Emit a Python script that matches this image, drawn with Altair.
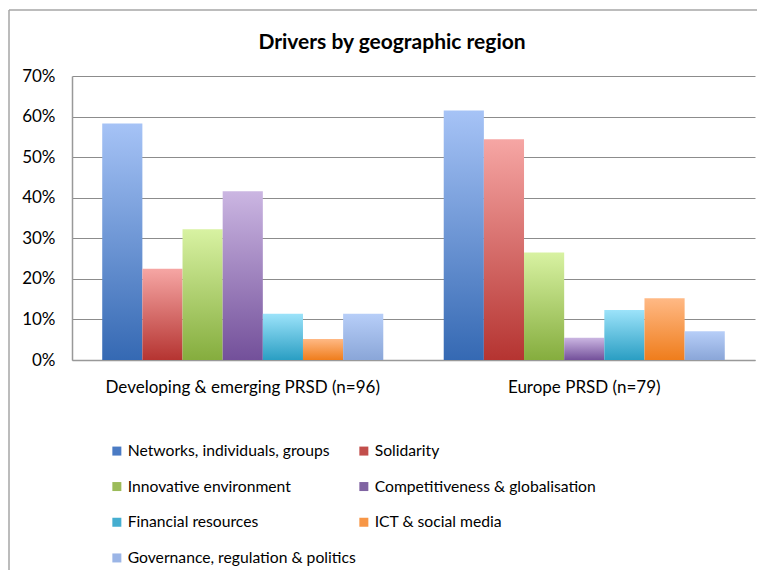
import altair as alt
import pandas as pd

regions = ["Developing & emerging PRSD (n=96)", "Europe PRSD (n=79)"]
drivers = [
    "Networks, individuals, groups",
    "Solidarity",
    "Innovative environment",
    "Competitiveness & globalisation",
    "Financial resources",
    "ICT & social media",
    "Governance, regulation & politics",
]
developing = [0.583, 0.225, 0.322, 0.416, 0.114, 0.052, 0.114]
europe = [0.615, 0.544, 0.265, 0.055, 0.123, 0.152, 0.071]
title_text = "Drivers by geographic region"

top_colors = ["#a6c3f6", "#f6a6a4", "#d8f2a2", "#cbb6e2", "#9ce3fa", "#ffb985", "#b7cef8"]
bottom_colors = ["#3569b3", "#b53431", "#85ad3e", "#73509a", "#2a9ec3", "#ef7d1c", "#8aa6d8"]
legend_colors = ["#4a7bc4", "#c24e4b", "#9bbb59", "#8064a2", "#45aed0", "#f79646", "#9bb5e6"]

rows = []
for r, vals in zip(regions, [developing, europe]):
    for d, v in zip(drivers, vals):
        rows.append({"region": r, "driver": d, "value": v})
df = pd.DataFrame(rows)

FONT = "Lato"

base = alt.Chart(df).encode(
    x=alt.X(
        "region:N",
        sort=regions,
        title=None,
        scale=alt.Scale(paddingInner=0.177, paddingOuter=0.0885),
        axis=alt.Axis(labelAngle=0, ticks=False, labelPadding=19, labelFontSize=17,
                      labelFont=FONT, labelColor="#000000", domainColor="#999999",
                      domainWidth=1.5, labelLimit=400),
    ),
    xOffset=alt.XOffset("driver:N", sort=drivers,
                        scale=alt.Scale(domain=drivers, paddingInner=0, paddingOuter=0)),
    y=alt.Y(
        "value:Q",
        title=None,
        scale=alt.Scale(domain=[0, 0.7], nice=False),
        axis=alt.Axis(values=[0, 0.1, 0.2, 0.3, 0.4, 0.5, 0.6, 0.7], format=".0%",
                      ticks=False, labelPadding=17, labelFontSize=17, labelFont=FONT,
                      labelColor="#000000", grid=True, gridColor="#8c8c8c",
                      gridWidth=1, domainColor="#999999", domainWidth=1.5),
    ),
)

layers = []
for d, t, b in zip(drivers, top_colors, bottom_colors):
    grad = alt.Gradient(
        gradient="linear",
        stops=[alt.GradientStop(color=t, offset=0), alt.GradientStop(color=b, offset=1)],
        x1=0, x2=0, y1=0, y2=1,
    )
    layers.append(
        base.transform_filter(alt.datum.driver == d).mark_bar(fill=grad, strokeWidth=0)
    )

legend_layer = base.mark_square(opacity=0).encode(
    color=alt.Color(
        "driver:N",
        sort=drivers,
        scale=alt.Scale(domain=drivers, range=legend_colors),
        legend=alt.Legend(
            title=None, orient="none", legendX=37, legendY=367, columns=2,
            direction="horizontal", symbolType="square", symbolSize=81,
            symbolOpacity=1, symbolStrokeWidth=0, labelFontSize=15.7, labelFont=FONT,
            labelColor="#000000", rowPadding=18.7, columnPadding=0, labelOffset=3,
            labelLimit=400, padding=0,
        ),
    )
)

one = pd.DataFrame({"k": [0]})
frame_v = alt.Chart(one).mark_rule(color="#a6a6a6", strokeWidth=1.5).encode(
    x=alt.value(-63), y=alt.value(-66), y2=alt.value(600)
)
frame_h = alt.Chart(one).mark_rule(color="#a6a6a6", strokeWidth=1.5).encode(
    x=alt.value(-63), x2=alt.value(720), y=alt.value(-66)
)
title_layer = alt.Chart(one).mark_text(
    text=title_text, font=FONT, fontSize=21, fontWeight="bold", color="#000000",
    align="center", baseline="middle",
).encode(x=alt.value(320), y=alt.value(-33))

chart = alt.layer(*layers, legend_layer, frame_v, frame_h, title_layer).properties(
    width=683,
    height=284,
    autosize=alt.AutoSizeParams(type="none"),
    padding={"left": 64, "top": 68, "right": 2, "bottom": 210},
).configure_view(stroke=None)

chart.save("out.html", embed_options={"renderer": "svg", "actions": False})
